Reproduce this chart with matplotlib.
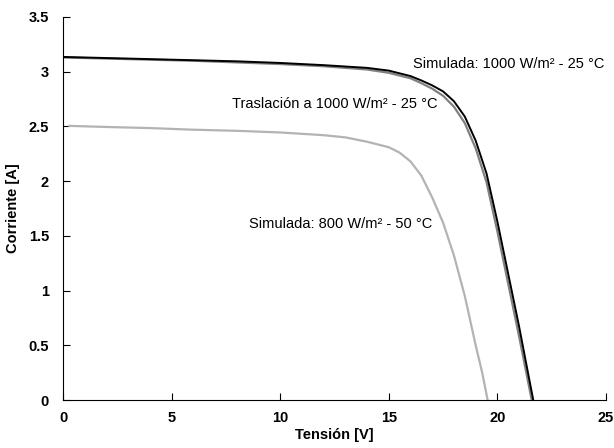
import matplotlib.pyplot as plt

# Curvas I-V
v_sim1000 = [0, 2, 4, 6, 8, 10, 12, 14, 15, 16, 16.5, 17, 17.5, 18, 18.5, 19, 19.5, 20, 20.5, 21, 21.3, 21.65]
i_sim1000 = [3.135, 3.125, 3.115, 3.105, 3.095, 3.08, 3.06, 3.035, 3.01, 2.96, 2.92, 2.875, 2.82, 2.73, 2.59,
             2.37, 2.07, 1.63, 1.15, 0.67, 0.36, 0.0]

v_tras = [0, 2, 4, 6, 8, 10, 12, 14, 15, 16, 16.5, 17, 17.5, 18, 18.5, 19, 19.5, 20, 20.5, 21, 21.3, 21.58]
i_tras = [3.13, 3.12, 3.11, 3.10, 3.085, 3.07, 3.05, 3.02, 2.99, 2.94, 2.895, 2.845, 2.78, 2.68, 2.53,
          2.30, 1.99, 1.54, 1.06, 0.58, 0.28, 0.0]

v_sim800 = [0.3, 2, 4, 6, 8, 10, 12, 13, 14, 15, 15.5, 16, 16.5, 17, 17.5, 18, 18.5, 19, 19.3, 19.55]
i_sim800 = [2.505, 2.495, 2.485, 2.47, 2.46, 2.445, 2.42, 2.40, 2.36, 2.31, 2.26, 2.18, 2.05, 1.85, 1.62,
            1.32, 0.95, 0.50, 0.25, 0.0]

x_ticks = [0, 5, 10, 15, 20, 25]
y_ticks = [0, 0.5, 1, 1.5, 2, 2.5, 3, 3.5]
y_labels = ['0', '0.5', '1', '1.5', '2', '2.5', '3', '3.5']

plt.rcParams['font.family'] = ['Liberation Sans', 'DejaVu Sans']

fig = plt.figure(figsize=(6.14, 4.48), dpi=100)
ax = fig.add_axes([63 / 614, 48 / 448, 543 / 614, 383 / 448])

ax.plot(v_sim800, i_sim800, color='#b3b3b3', linewidth=1.6)
ax.plot(v_tras, i_tras, color='#808080', linewidth=1.6)
ax.plot(v_sim1000, i_sim1000, color='black', linewidth=1.4)

ax.text(16.1, 3.07, 'Simulada: 1000 W/m² - 25 °C', fontsize=10.5, va='center')
ax.text(7.8, 2.705, 'Traslación a 1000 W/m² - 25 °C', fontsize=10.5, va='center')
ax.text(8.55, 1.61, 'Simulada: 800 W/m² - 50 °C', fontsize=10.5, va='center')

ax.set_xlim(0, 25)
ax.set_ylim(0, 3.5)
ax.set_xticks(x_ticks)
ax.set_xticklabels([str(t) for t in x_ticks], fontweight='bold')
ax.set_yticks(y_ticks)
ax.set_yticklabels(y_labels, fontweight='bold')
ax.tick_params(direction='in', length=5, labelsize=10.5)
ax.tick_params(axis='x', pad=8)
ax.tick_params(axis='y', pad=10)
ax.spines['top'].set_visible(False)
ax.spines['right'].set_visible(False)

ax.set_xlabel('Tensión [V]', fontweight='bold', fontsize=10.5, labelpad=2)
ax.set_ylabel('Corriente [A]', fontweight='bold', fontsize=10.5, labelpad=6)

fig.savefig('out.png', dpi=100)
